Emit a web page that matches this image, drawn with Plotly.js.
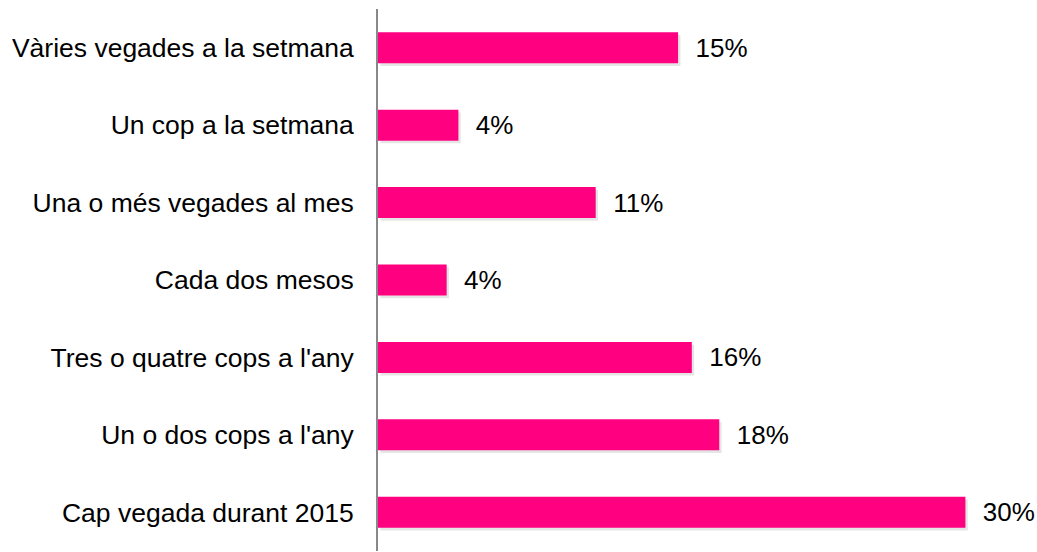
<!DOCTYPE html>
<html>
<head>
<meta charset="utf-8">
<script src="https://cdn.plot.ly/plotly-3.0.1.min.js"></script>
<style>html,body{margin:0;padding:0;background:#fff;}#chart{width:1037px;height:552px;}</style>
</head>
<body>
<div id="chart"></div>
<script>
const categories = [
  "Vàries vegades a la setmana",
  "Un cop a la setmana",
  "Una o més vegades al mes",
  "Cada dos mesos",
  "Tres o quatre cops a l'any",
  "Un o dos cops a l'any",
  "Cap vegada durant 2015"
];
const values = [15.3, 4.1, 11.1, 3.5, 16.0, 17.4, 29.95];
const valueLabels = ["15%", "4%", "11%", "4%", "16%", "18%", "30%"];

const shadow = {
  type: 'bar', orientation: 'h',
  y: categories, x: values, base: 0.12,
  width: 0.4, offset: -0.2 + 0.035,
  marker: {color: 'rgba(0,0,0,0.10)', line: {width: 0}},
  hoverinfo: 'skip', showlegend: false
};
const bars = {
  type: 'bar', orientation: 'h',
  y: categories, x: values,
  width: 0.4,
  marker: {color: '#FF0080', line: {width: 0}},
  text: valueLabels.map(t => '  ' + t),
  textposition: 'outside',
  cliponaxis: false,
  textfont: {family: 'Liberation Sans, Arial, sans-serif', size: 26, color: '#000'},
  showlegend: false
};
const layout = {
  width: 1037, height: 552,
  margin: {l: 378, r: 0, t: 9, b: 1},
  paper_bgcolor: '#fff', plot_bgcolor: '#fff',
  barmode: 'overlay',
  font: {family: 'Liberation Sans, Arial, sans-serif', size: 26, color: '#000'},
  xaxis: {range: [0, 33.6], visible: false, showgrid: false, zeroline: false, fixedrange: true},
  yaxis: {
    autorange: 'reversed', type: 'category',
    showline: true, linecolor: '#888', linewidth: 2,
    ticks: '', showgrid: false, zeroline: false,
    ticklabelstandoff: 17,
    tickfont: {family: 'Liberation Sans, Arial, sans-serif', size: 26.5, color: '#000'}
  }
};
Plotly.newPlot('chart', [shadow, bars], layout, {displayModeBar: false, staticPlot: true});
</script>
</body>
</html>
